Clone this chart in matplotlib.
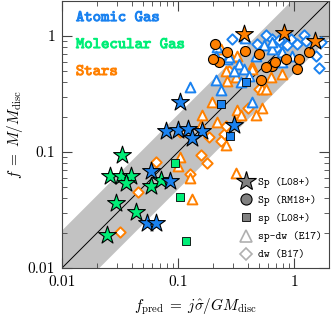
import numpy as np
import matplotlib
matplotlib.use("Agg")
import matplotlib.pyplot as plt
import matplotlib.patheffects as pe
from matplotlib.ticker import FixedLocator, FixedFormatter, LogLocator, NullFormatter
from matplotlib.lines import Line2D

plt.rcParams['mathtext.fontset'] = 'cm'

BLUE = '#1a82f0'
GREEN = '#00ee77'
ORANGE = '#ff8000'

# ---- data (f_pred, f) ----
mol_star_x = [0.0328, 0.0258, 0.032, 0.039, 0.0354, 0.029, 0.043, 0.0243, 0.059, 0.071]
mol_star_y = [0.095, 0.0615, 0.0625, 0.0625, 0.054, 0.0366, 0.0305, 0.0193, 0.051, 0.057]

atom_star_x = [0.054, 0.064, 0.059, 0.0845, 0.078, 0.099, 0.123, 0.162, 0.133, 0.305, 0.105]
atom_star_y = [0.0245, 0.0245, 0.069, 0.0566, 0.153, 0.156, 0.158, 0.153, 0.131, 0.17, 0.267]

star_star_x = [0.372, 0.82, 1.52]
star_star_y = [1.03, 1.05, 0.90]

star_circ_x = [0.266, 0.38, 0.227, 0.21, 0.20, 0.50, 0.647, 1.06, 0.52, 0.575, 0.85, 1.35, 0.687, 1.10]
star_circ_y = [0.72, 0.74, 0.60, 0.85, 0.63, 0.70, 0.55, 0.52, 0.42, 0.54, 0.63, 0.72, 0.60, 0.63]

atom_sq_x = [0.236, 0.387, 0.282]
atom_sq_y = [0.26, 0.40, 0.136]

mol_sq_x = [0.095, 0.105, 0.116]
mol_sq_y = [0.081, 0.0412, 0.0171]

atom_tri_x = [0.126, 0.218, 0.214, 0.266, 0.337, 0.372, 0.305, 0.214, 0.236, 0.411, 0.35,
              0.43, 0.38, 0.647, 0.79, 0.96, 0.277, 0.47, 0.647, 0.79, 0.553]
atom_tri_y = [0.36, 0.81, 0.67, 0.63, 0.57, 0.52, 0.50, 0.42, 0.34, 0.45, 0.40,
              0.27, 0.955, 0.77, 0.60, 0.67, 0.655, 0.67, 0.88, 0.72, 0.83]

star_tri_x = [0.236, 0.288, 0.324, 0.436, 0.261, 0.318, 0.531, 0.575, 0.436, 0.198, 0.162,
              0.324, 0.35, 0.159, 0.218, 0.261, 0.531, 0.634, 0.266, 0.472, 0.105, 0.099,
              0.128, 0.131, 0.318, 0.79]
star_tri_y = [0.77, 0.655, 0.67, 0.55, 0.50, 0.44, 0.35, 0.35, 0.52, 0.268, 0.21,
              0.23, 0.21, 0.17, 0.18, 0.115, 0.24, 0.44, 0.405, 0.21, 0.091, 0.076,
              0.06, 0.039, 0.066, 0.47]

star_dia_x = [0.103, 0.186, 0.251, 0.236, 0.159, 0.179, 0.126, 0.065, 0.045, 0.0315,
              0.277, 0.50, 0.397, 0.337, 0.259]
star_dia_y = [0.15, 0.134, 0.144, 0.125, 0.095, 0.08, 0.065, 0.082, 0.0455, 0.0205,
              0.50, 0.35, 0.24, 0.205, 0.167]

atom_dia_x = [0.294, 0.575, 0.481, 0.647, 0.743, 0.94, 1.22, 1.06, 1.27, 1.71, 1.55, 1.64, 0.70, 0.87]
atom_dia_y = [0.94, 1.01, 0.85, 0.94, 0.92, 0.94, 1.01, 0.85, 0.90, 0.88, 0.67, 0.53, 0.78, 0.83]

band_factor = 2.1
xlim = (0.01, 2.0)
ylim = (0.01, 2.0)
tick_vals = [0.01, 0.1, 1]
tick_labels = ['0.01', '0.1', '1']

fig = plt.figure(figsize=(3.31, 3.20), dpi=100)
ax = fig.add_axes([62/331, 52/320, 267/331, 267/320])
ax.set_xscale('log')
ax.set_yscale('log')

xx = np.logspace(-3, 1, 100)
ax.fill_between(xx, xx / band_factor, xx * band_factor, color='#c2c2c2', lw=0, zorder=0)
ax.plot(xx, xx, color='k', lw=0.7, zorder=1)

open_kw = dict(facecolor='white', linewidths=1.4)
ax.scatter(star_dia_x, star_dia_y, marker='D', s=28, edgecolors=ORANGE, zorder=2, **open_kw)
ax.scatter(atom_dia_x, atom_dia_y, marker='D', s=28, edgecolors=BLUE, zorder=2, **open_kw)
ax.scatter(star_tri_x, star_tri_y, marker='^', s=50, edgecolors=ORANGE, zorder=3, **open_kw)
ax.scatter(atom_tri_x, atom_tri_y, marker='^', s=50, edgecolors=BLUE, zorder=3, **open_kw)
ax.scatter(star_circ_x, star_circ_y, marker='o', s=52, c=ORANGE, edgecolors='k', linewidths=0.8, zorder=4)
ax.scatter(atom_sq_x, atom_sq_y, marker='s', s=36, c=BLUE, edgecolors='k', linewidths=0.6, zorder=4)
ax.scatter(mol_sq_x, mol_sq_y, marker='s', s=36, c=GREEN, edgecolors='k', linewidths=0.6, zorder=4)
ax.scatter(star_star_x, star_star_y, marker='*', s=180, c=ORANGE, edgecolors='k', linewidths=0.8, zorder=5)
ax.scatter(mol_star_x, mol_star_y, marker='*', s=180, c=GREEN, edgecolors='k', linewidths=0.8, zorder=5)
ax.scatter(atom_star_x, atom_star_y, marker='*', s=180, c=BLUE, edgecolors='k', linewidths=0.8, zorder=5)

ax.set_xlim(*xlim)
ax.set_ylim(*ylim)

for axis in (ax.xaxis, ax.yaxis):
    axis.set_major_locator(FixedLocator(tick_vals))
    axis.set_major_formatter(FixedFormatter(tick_labels))
    axis.set_minor_locator(LogLocator(base=10, subs=np.arange(2, 10)))
    axis.set_minor_formatter(NullFormatter())
ax.tick_params(which='both', direction='in', top=True, right=True, color='#444444')
ax.tick_params(which='major', length=7, width=0.8, labelsize=11, pad=5)
ax.tick_params(which='minor', length=3.5, width=0.6)
for lab in ax.get_xticklabels() + ax.get_yticklabels():
    lab.set_fontfamily('cmr10')
for sp in ax.spines.values():
    sp.set_linewidth(0.8)
    sp.set_color('#444444')

ax.set_xlabel(r'$f_{\rm pred}\;=\;j\hat{\sigma}/GM_{\rm disc}$', fontsize=11, labelpad=6)
ax.set_ylabel(r'$f\;=\;M/M_{\rm disc}$', fontsize=11, labelpad=2)

for txt, col, yy in [('Atomic Gas', BLUE, 0.936), ('Molecular Gas', GREEN, 0.835), ('Stars', ORANGE, 0.734)]:
    ax.text(0.052, yy, txt, color=col, fontsize=11.5, family='cmtt10',
            transform=ax.transAxes, va='center', ha='left',
            path_effects=[pe.withStroke(linewidth=0.7, foreground=col)])

handles = [
    Line2D([], [], ls='none', marker='*', ms=15, mfc='#808080', mec='k', mew=0.8),
    Line2D([], [], ls='none', marker='o', ms=8, mfc='#808080', mec='k', mew=0.8),
    Line2D([], [], ls='none', marker='s', ms=6, mfc='#808080', mec='k', mew=0.6),
    Line2D([], [], ls='none', marker='^', ms=8, mfc='white', mec='#b0b0b0', mew=1.2),
    Line2D([], [], ls='none', marker='D', ms=6, mfc='white', mec='#b0b0b0', mew=1.2),
]
labels = ['Sp (L08+)', 'Sp (RM18+)', 'sp (L08+)', 'sp-dw (E17)', 'dw (B17)']
leg = ax.legend(handles, labels, loc='lower left', bbox_to_anchor=(0.625, -0.005),
                frameon=False, prop={'family': 'cmtt10', 'size': 8},
                handletextpad=0.3, labelspacing=0.65, handlelength=1.5, borderpad=0.3)

fig.savefig('out.png', dpi=100)
